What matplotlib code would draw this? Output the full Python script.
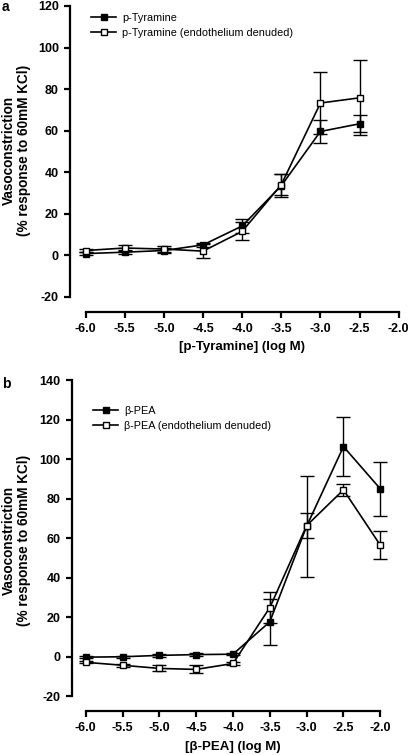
import matplotlib
matplotlib.use("Agg")
import matplotlib.pyplot as plt
import numpy as np

plt.rcParams['font.family'] = ['Liberation Sans', 'DejaVu Sans']

# Panel a data
xa = [-6.0, -5.5, -5.0, -4.5, -4.0, -3.5, -3.0, -2.5]
tyr = [0.8, 1.5, 2.3, 5.0, 14.1, 33.5, 59.6, 63.3]
tyr_err = [0.8, 1.0, 1.0, 1.0, 3.2, 5.5, 5.5, 4.0]
tyr_den = [2.3, 3.5, 3.0, 2.0, 11.5, 34.0, 73.3, 75.8]
tyr_den_err = [0.8, 1.5, 1.5, 3.2, 4.3, 5.2, 15.0, 18.0]

# Panel b data
xb = [-6.0, -5.5, -5.0, -4.5, -4.0, -3.5, -3.0, -2.5, -2.0]
pea = [-0.3, -0.1, 0.6, 1.0, 1.2, 17.6, 66.0, 106.3, 84.9]
pea_err = [0.5, 0.5, 0.6, 0.6, 0.6, 11.6, 25.5, 15.1, 13.7]
pea_den = [-2.9, -4.4, -6.0, -6.5, -3.5, 24.8, 66.3, 84.4, 56.4]
pea_den_err = [0.6, 0.8, 1.5, 2.0, 1.0, 8.0, 6.4, 3.0, 7.0]

xticks = [-6.0, -5.5, -5.0, -4.5, -4.0, -3.5, -3.0, -2.5, -2.0]

fig = plt.figure(figsize=(4.09, 7.55), dpi=100)

def style(ax, xlim, ylim, ybounds, yticks):
    ax.set_xlim(*xlim)
    ax.set_ylim(*ylim)
    for s in ['top', 'right']:
        ax.spines[s].set_visible(False)
    ax.spines['left'].set_bounds(*ybounds)
    ax.spines['bottom'].set_bounds(xticks[0], xticks[-1])
    ax.spines['left'].set_linewidth(1.6)
    ax.spines['bottom'].set_linewidth(1.6)
    ax.set_yticks(yticks)
    ax.set_xticks(xticks)
    ax.set_xticklabels([f"{t:.1f}" for t in xticks])
    ax.set_yticklabels([str(t) for t in yticks])
    ax.tick_params(direction='out', length=4, width=1.6, labelsize=9, pad=4)
    for lab in ax.get_xticklabels() + ax.get_yticklabels():
        lab.set_fontweight('bold')

def plot_series(ax, x, y, e, filled, label):
    c = ax.errorbar(x, y, yerr=e, color='black', lw=1.2, elinewidth=1.0, capsize=4.7,
                    capthick=1.0, marker='s', markersize=4.6,
                    markerfacecolor='black' if filled else 'white',
                    markeredgecolor='black', markeredgewidth=1.0, label=label,
                    zorder=3 if not filled else 2)
    for art in c.get_children():
        art.set_clip_on(False)

def labels(ax, xlabel, xl_pos, yl_pos):
    ax.set_xlabel(xlabel, fontsize=9.5, fontweight='bold')
    ax.xaxis.set_label_coords(*xl_pos)
    ax.xaxis.label.set_va('center')
    ax.set_ylabel('Vasoconstriction\n(% response to 60mM KCl)', fontsize=9.8,
                  fontweight='bold', linespacing=1.1)
    ax.yaxis.set_label_coords(*yl_pos)
    ax.yaxis.label.set_va('center')

legend_kw = dict(loc='upper left', frameon=False, fontsize=7.8, borderpad=0, borderaxespad=0,
                 handlelength=2.3, handletextpad=0.55, labelspacing=0.5)

# Panel a
axa = fig.add_axes([70/409, 1-312/755, 328.7/409, 306/755])
plot_series(axa, xa, tyr, tyr_err, True, 'p-Tyramine')
plot_series(axa, xa, tyr_den, tyr_den_err, False, 'p-Tyramine (endothelium denuded)')
style(axa, (-6.2, -2.0), (-27.3, 120), (-20, 120), list(range(-20, 121, 20)))
labels(axa, '[p-Tyramine] (log M)', (0.523, -0.114), (-0.163, 0.529))
h, l = axa.get_legend_handles_labels()
axa.legend([hh[0] for hh in h], l, bbox_to_anchor=(0.065, 0.978), **legend_kw)

# Panel b
axb = fig.add_axes([71.7/409, 1-710.7/755, 308.6/409, 330.7/755])
plot_series(axb, xb, pea, pea_err, True, 'β-PEA')
plot_series(axb, xb, pea_den, pea_den_err, False, 'β-PEA (endothelium denuded)')
style(axb, (-6.19, -2.0), (-27.4, 140), (-20, 140), list(range(-20, 141, 20)))
labels(axb, '[β-PEA] (log M)', (0.523, -0.109), (-0.179, 0.516))
h, l = axb.get_legend_handles_labels()
axb.legend([hh[0] for hh in h], l, bbox_to_anchor=(0.07, 0.922), **legend_kw)

fig.text(2/409, 1-7/755, 'a', fontsize=10, fontweight='bold', va='center', ha='left')
fig.text(2/409, 1-384/755, 'b', fontsize=10, fontweight='bold', va='center', ha='left')

fig.savefig('out.png', dpi=100)
